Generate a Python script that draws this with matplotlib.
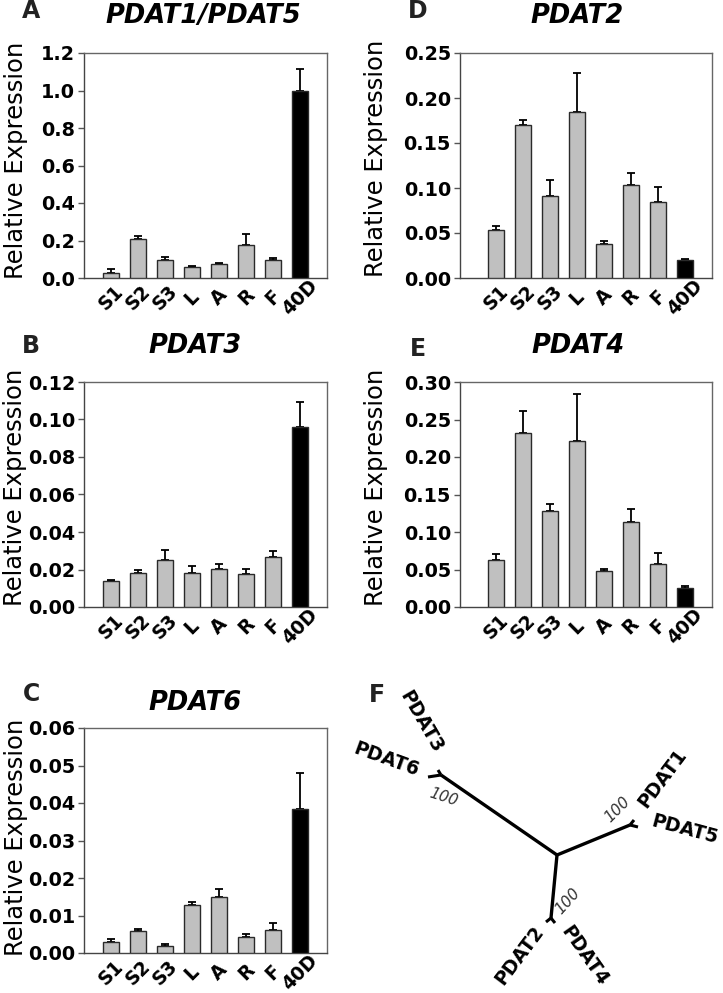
import matplotlib
matplotlib.use("Agg")
import matplotlib.pyplot as plt
import numpy as np

W, H = 723, 993

categories = ["S1", "S2", "S3", "L", "A", "R", "F", "40D"]

pdat15_vals = [0.027, 0.21, 0.098, 0.059, 0.073, 0.176, 0.098, 1.0]
pdat15_err = [0.023, 0.012, 0.016, 0.004, 0.006, 0.060, 0.011, 0.115]

pdat2_vals = [0.053, 0.170, 0.091, 0.184, 0.038, 0.103, 0.084, 0.0196]
pdat2_err = [0.0047, 0.0056, 0.0178, 0.0441, 0.0029, 0.0137, 0.0171, 0.0019]

pdat3_vals = [0.0139, 0.0181, 0.0249, 0.0183, 0.0204, 0.0178, 0.0267, 0.096]
pdat3_err = [0.0007, 0.0018, 0.0053, 0.0036, 0.0025, 0.0026, 0.0032, 0.0135]

pdat4_vals = [0.0622, 0.232, 0.1276, 0.2209, 0.0476, 0.1138, 0.0569, 0.0258]
pdat4_err = [0.0089, 0.0298, 0.0097, 0.0627, 0.0035, 0.0169, 0.0151, 0.0022]

pdat6_vals = [0.0029, 0.0060, 0.0020, 0.0127, 0.0149, 0.0043, 0.0061, 0.0384]
pdat6_err = [0.0009, 0.0004, 0.0005, 0.0009, 0.0022, 0.0009, 0.0018, 0.0096]

# tree (panel F): node coordinates in the panel's pixel frame
tree_center = (557, 855)
tree_nodes = {"left": (441, 775), "right": (630, 825), "bottom": (551, 918)}
tree_tips = {
    "PDAT6": ("left", (428, 777)), "PDAT3": ("left", (438, 770)),
    "PDAT1": ("right", (634, 820)), "PDAT5": ("right", (638, 827)),
    "PDAT2": ("bottom", (546, 922)), "PDAT4": ("bottom", (555, 923)),
}
tree_labels = {  # name: (x, y, rotation)
    "PDAT3": (421, 722, -60), "PDAT6": (386, 760, -20),
    "PDAT1": (662, 778, 53), "PDAT5": (685, 830, -15),
    "PDAT2": (519, 955, 53), "PDAT4": (584, 956, -55),
}
bootstrap = [(444, 797, -18, "100"), (617, 809, 45, "100"), (568, 901, 48, "100")]

fig = plt.figure(figsize=(W / 100, H / 100), dpi=100)


def fx(px):
    return px / W


def fy(py):
    return 1 - py / H


def bar_panel(l, r, t, b, vals, errs, ylim, step, fmt, xleft, title, tx, ty,
              letter, lx, ly, ylx, yly):
    ax = fig.add_axes([fx(l), fy(b), fx(r - l), (b - t) / H])
    x = np.arange(len(categories))
    colors = ["#c0c0c0"] * (len(categories) - 1) + ["#000000"]
    ax.bar(x, vals, width=0.6, color=colors, edgecolor="#2a2a2a", linewidth=1.0, zorder=3)
    ax.errorbar(x, vals, yerr=[np.zeros(len(vals)), errs], fmt="none", ecolor="black",
                elinewidth=1.3, capsize=3.2, capthick=1.3, zorder=2)
    ax.set_xlim(xleft, 8.0)
    ax.set_ylim(*ylim)
    ticks = np.arange(0, ylim[1] + step / 2, step)
    ax.set_yticks(ticks)
    ax.set_yticklabels([fmt.format(v) for v in ticks], fontsize=13.8, fontweight="bold")
    ax.set_xticks(x)
    ax.set_xticklabels(categories, rotation=45, ha="center", va="center",
                       fontsize=13.5, fontweight="bold")
    ax.tick_params(axis="x", length=0, pad=14)
    ax.tick_params(axis="y", length=4.5, width=1, color="#555555", pad=2)
    for s in ax.spines.values():
        s.set_color("#666666")
        s.set_linewidth(1.0)
    ax.spines["left"].set_color("#444444")
    ax.spines["bottom"].set_color("#444444")
    fig.text(fx(tx), fy(ty), title, ha="center", va="center", fontsize=18.5,
             fontweight="bold", style="italic")
    fig.text(fx(lx), fy(ly), letter, ha="center", va="center", fontsize=17,
             fontweight="bold", color="#222222")
    fig.text(fx(ylx), fy(yly), "Relative Expression", rotation=90, ha="center",
             va="center", fontsize=17.5)
    return ax


bar_panel(84, 327, 53, 278, pdat15_vals, pdat15_err, (0, 1.2), 0.2, "{:.1f}", -1.0,
          "PDAT1/PDAT5", 203, 16, "A", 31, 11, 16, 160)
bar_panel(460, 712, 53, 278, pdat2_vals, pdat2_err, (0, 0.25), 0.05, "{:.2f}", -1.32,
          "PDAT2", 577, 16, "D", 418, 11, 376, 158)
bar_panel(84, 327, 382, 607, pdat3_vals, pdat3_err, (0, 0.12), 0.02, "{:.2f}", -1.0,
          "PDAT3", 195, 346, "B", 31, 346, 15, 487)
bar_panel(460, 712, 382, 607, pdat4_vals, pdat4_err, (0, 0.30), 0.05, "{:.2f}", -1.32,
          "PDAT4", 578, 346, "E", 418, 349, 376, 487)
bar_panel(84, 327, 728, 953, pdat6_vals, pdat6_err, (0, 0.06), 0.01, "{:.2f}", -1.0,
          "PDAT6", 195, 703, "C", 31, 694, 16, 837)

# Panel F: tree
axt = fig.add_axes([fx(340), 0, fx(W - 340), (H - 660) / H])
axt.set_xlim(340, W)
axt.set_ylim(H, 660)
axt.axis("off")
cx, cy = tree_center
for name, (nx, ny) in tree_nodes.items():
    axt.plot([cx, nx], [cy, ny], color="black", lw=2.4, solid_capstyle="butt")
for name, (node, (tx_, ty_)) in tree_tips.items():
    nx, ny = tree_nodes[node]
    axt.plot([nx, tx_], [ny, ty_], color="black", lw=2.2, solid_capstyle="butt")
for name, (lx, ly, rot) in tree_labels.items():
    axt.text(lx, ly, name, rotation=rot, ha="center", va="center", fontsize=13.5,
             fontweight="bold", rotation_mode="anchor")
for bx, by, rot, s in bootstrap:
    axt.text(bx, by, s, rotation=rot, ha="center", va="center", fontsize=11,
             style="italic", color="#333333", rotation_mode="anchor")
fig.text(fx(377), fy(695), "F", ha="center", va="center", fontsize=17,
         fontweight="bold", color="#222222")

fig.savefig("out.png", dpi=100)
